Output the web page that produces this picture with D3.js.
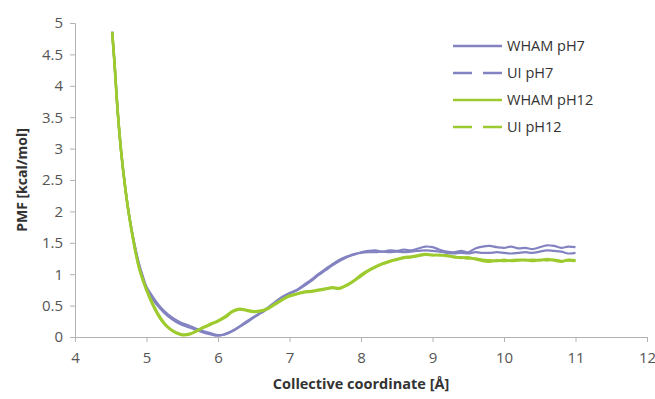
<!DOCTYPE html>
<html lang="en">
<head>
    <meta charset="UTF-8">
    <title>PMF - Collective coordinate</title>
    <script src="https://d3js.org/d3.v7.min.js"></script>
    <style>
      body { margin: 0; background: #fff; }
      svg text { font-family: "Open Sans", "Liberation Sans", sans-serif; }
    </style>
</head>
<body>
<div id="chart"></div>
<script>
  // DATA //
  var coord = [4.52, 4.55, 4.6, 4.65, 4.7, 4.75, 4.8, 4.85, 4.9, 4.95,
    5.0, 5.1, 5.2, 5.3, 5.4, 5.5, 5.6, 5.7, 5.8, 5.9,
    6.0, 6.1, 6.2, 6.3, 6.4, 6.5, 6.6, 6.7, 6.8, 6.9,
    7.0, 7.1, 7.2, 7.3, 7.4, 7.5, 7.6, 7.7, 7.8, 7.9,
    8.0, 8.1, 8.2, 8.3, 8.4, 8.5, 8.6, 8.7, 8.8, 8.9,
    9.0, 9.1, 9.2, 9.3, 9.4, 9.5, 9.6, 9.7, 9.8, 9.9,
    10.0, 10.1, 10.2, 10.3, 10.4, 10.5, 10.6, 10.7, 10.8, 10.9, 11.0];

  var whamPH7 = [4.86, 4.40, 3.55, 2.90, 2.40, 1.99, 1.66, 1.38, 1.14, 0.96,
    0.80, 0.62, 0.47, 0.36, 0.28, 0.22, 0.18, 0.13, 0.09, 0.06,
    0.03, 0.04, 0.09, 0.16, 0.23, 0.31, 0.38, 0.45, 0.55, 0.63,
    0.69, 0.74, 0.81, 0.89, 0.98, 1.06, 1.14, 1.21, 1.27, 1.31,
    1.35, 1.37, 1.38, 1.36, 1.38, 1.37, 1.39, 1.38, 1.41, 1.44,
    1.43, 1.39, 1.36, 1.35, 1.37, 1.35, 1.41, 1.44, 1.45, 1.43,
    1.42, 1.44, 1.41, 1.42, 1.40, 1.43, 1.46, 1.45, 1.42, 1.44, 1.43];

  var uiPH7 = [4.86, 4.40, 3.55, 2.90, 2.40, 1.99, 1.66, 1.38, 1.14, 0.95,
    0.78, 0.58, 0.44, 0.33, 0.25, 0.19, 0.15, 0.11, 0.07, 0.04,
    0.02, 0.05, 0.10, 0.17, 0.25, 0.32, 0.39, 0.47, 0.56, 0.64,
    0.70, 0.75, 0.83, 0.91, 1.00, 1.08, 1.16, 1.23, 1.28, 1.32,
    1.34, 1.35, 1.35, 1.36, 1.35, 1.36, 1.35, 1.36, 1.37, 1.38,
    1.37, 1.36, 1.34, 1.33, 1.34, 1.33, 1.35, 1.34, 1.34, 1.35,
    1.34, 1.33, 1.34, 1.35, 1.34, 1.36, 1.38, 1.37, 1.36, 1.33, 1.34];

  var whamPH12 = [4.86, 4.40, 3.55, 2.90, 2.40, 1.98, 1.64, 1.33, 1.08, 0.90,
    0.74, 0.48, 0.28, 0.15, 0.07, 0.03, 0.04, 0.09, 0.15, 0.20,
    0.25, 0.31, 0.40, 0.44, 0.42, 0.40, 0.41, 0.45, 0.52, 0.59,
    0.65, 0.68, 0.71, 0.72, 0.74, 0.76, 0.78, 0.77, 0.82, 0.89,
    0.97, 1.05, 1.11, 1.16, 1.20, 1.23, 1.26, 1.27, 1.29, 1.31,
    1.30, 1.31, 1.29, 1.28, 1.26, 1.27, 1.24, 1.21, 1.20, 1.22,
    1.21, 1.22, 1.23, 1.22, 1.23, 1.22, 1.24, 1.22, 1.20, 1.23, 1.22];

  var uiPH12 = [4.86, 4.40, 3.55, 2.90, 2.40, 1.98, 1.64, 1.34, 1.09, 0.91,
    0.76, 0.50, 0.30, 0.16, 0.08, 0.04, 0.05, 0.10, 0.16, 0.21,
    0.26, 0.33, 0.41, 0.45, 0.43, 0.41, 0.42, 0.46, 0.53, 0.60,
    0.66, 0.69, 0.72, 0.73, 0.75, 0.77, 0.79, 0.78, 0.83, 0.90,
    0.99, 1.06, 1.12, 1.17, 1.21, 1.24, 1.27, 1.28, 1.30, 1.32,
    1.31, 1.30, 1.30, 1.27, 1.27, 1.25, 1.25, 1.23, 1.22, 1.21,
    1.23, 1.21, 1.22, 1.23, 1.21, 1.23, 1.22, 1.23, 1.21, 1.22, 1.21];

  var xTicks = [4, 5, 6, 7, 8, 9, 10, 11, 12];
  var yTicks = [0, 0.5, 1, 1.5, 2, 2.5, 3, 3.5, 4, 4.5, 5];

  var seriesNames = ["WHAM pH7", "UI pH7", "WHAM pH12", "UI pH12"];
  var seriesValues = [whamPH7, uiPH7, whamPH12, uiPH12];

  // DIMENSIONS //
  var width = 655, height = 399;
  var purple = "#8383c2", green = "#9dcb2f";
  var colors = [purple, purple, green, green];
  var dashes = [null, "19,11", null, "19,11"];

  var svg = d3.select("#chart")
    .append("svg")
      .attr("width", width)
      .attr("height", height);

  var x = d3.scaleLinear().domain([4, 12]).range([75, 647]);
  var y = d3.scaleLinear().domain([0, 5]).range([337, 23]);

  // axes
  var xAxis = svg.append("g")
    .attr("transform", "translate(0," + y(0) + ")")
    .call(d3.axisBottom(x).tickValues(xTicks).tickSize(5).tickPadding(10).tickFormat(d3.format("d")));
  var yAxis = svg.append("g")
    .attr("transform", "translate(" + x(4) + ",0)")
    .call(d3.axisLeft(y).tickValues(yTicks).tickSize(5).tickPadding(7).tickFormat(function(d) { return d; }));

  [xAxis, yAxis].forEach(function(a) {
    a.select(".domain").attr("stroke", "#b3b3b3");
    a.selectAll(".tick line").attr("stroke", "#b3b3b3");
    a.selectAll(".tick text")
      .attr("fill", "#555")
      .style("font-size", "15px")
      .style("font-family", "'Open Sans', sans-serif");
  });

  // axis titles
  svg.append("text")
    .attr("x", (x(4) + x(12)) / 2)
    .attr("y", 389)
    .attr("text-anchor", "middle")
    .attr("font-weight", "bold")
    .attr("font-size", "14.5px")
    .attr("fill", "#333")
    .text("Collective coordinate [Å]");

  svg.append("text")
    .attr("transform", "translate(27," + y(2.5) + ") rotate(-90)")
    .attr("text-anchor", "middle")
    .attr("font-weight", "bold")
    .attr("font-size", "14px")
    .attr("fill", "#333")
    .text("PMF [kcal/mol]");

  // lines
  var line = d3.line()
    .x(function(d) { return x(d[0]); })
    .y(function(d) { return y(d[1]); })
    .curve(d3.curveCatmullRom);

  seriesValues.forEach(function(vals, i) {
    var pts = coord.map(function(c, j) { return [c, vals[j]]; });
    svg.append("path")
      .datum(pts)
      .attr("fill", "none")
      .attr("stroke", colors[i])
      .attr("stroke-width", i < 2 ? 2.2 : 2.6)
      .attr("stroke-linejoin", "round")
      .attr("d", line);
  });

  // legend
  var legend = svg.append("g");
  seriesNames.forEach(function(name, i) {
    var ly = 46 + i * 27;
    legend.append("line")
      .attr("x1", 453).attr("x2", 502)
      .attr("y1", ly).attr("y2", ly)
      .attr("stroke", colors[i])
      .attr("stroke-width", 2.4)
      .attr("stroke-dasharray", dashes[i]);
    legend.append("text")
      .attr("x", 507)
      .attr("y", ly + 5)
      .attr("font-size", "14.5px")
      .attr("fill", "#333")
      .text(name);
  });
</script>
</body>
</html>
